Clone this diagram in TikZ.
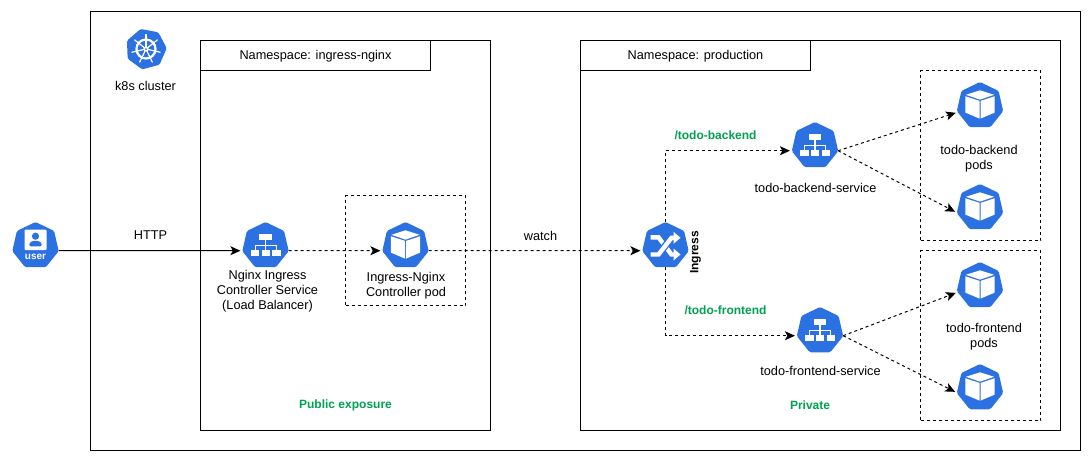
\documentclass[tikz,border=0pt]{standalone}
\usepackage{fontspec}
\setmainfont{Liberation Sans}
\usetikzlibrary{shapes.geometric,arrows.meta}
\definecolor{kblue}{HTML}{2C71E2}
\definecolor{lblgreen}{HTML}{00A152}
\def\px{0.75pt}
\tikzset{
  x=0.75pt,y=-0.75pt,
  boxed/.style={draw=black,line width=1*\px,anchor=north west,inner sep=0pt,outer sep=0pt,fill=none},
  dashbox/.style={boxed,dash pattern=on 3*\px off 3*\px},
  hept/.style={regular polygon,regular polygon sides=7,fill=kblue,draw=none,inner sep=0pt,outer sep=0pt,
     minimum size=47.6*\px,rounded corners=1.5*\px},
  hdr/.style={align=center,inner sep=0pt,font=\fontsize{9.55}{11.25}\selectfont,text=black},
  lbl/.style={hdr,yshift=-1*\px},
  blbl/.style={hdr,font=\fontsize{9}{11.25}\selectfont\bfseries},
  glbl/.style={lbl,font=\fontsize{9}{11.25}\selectfont\bfseries,text=lblgreen},
  conn/.style={line width=1*\px,-{Stealth[length=10*\px,width=9*\px,inset=2.5*\px]}},
  dconn/.style={conn,dash pattern=on 3*\px off 3*\px,shorten >=2*\px},
  svcicon/.pic={
    \fill[white] (-6.3,-11.7) rectangle (6.3,-6.3);
    \fill[white] (-.6,-6.3) rectangle (.6,-1);
    \fill[white] (-11,-1) rectangle (11.3,0);
    \fill[white] (-11,-1) rectangle (-10,4.3);
    \fill[white] (-.6,-1) rectangle (.6,4.3);
    \fill[white] (10.3,-1) rectangle (11.3,4.3);
    \fill[white] (-14.7,4.3) rectangle (-6.3,9.7);
    \fill[white] (-4,4.3) rectangle (4.3,9.7);
    \fill[white] (6.7,4.3) rectangle (15,9.7);
  },
  podicon/.pic={
    \fill[white] (0,-15.5) -- (14.2,-11) -- (0,-6.2) -- (-14.2,-11) -- cycle;
    \fill[white] (-14.7,-9.6) -- (-.5,-4.9) -- (-.5,12.8) -- (-14.7,6.8) -- cycle;
    \fill[white] (14.7,-9.6) -- (.5,-4.9) -- (.5,12.8) -- (14.7,6.8) -- cycle;
  },
  ingicon/.pic={
    \draw[white,line width=4.4*\px] (-15,-8.5) -- (-7,-8.5) -- (6,8.7) -- (9.5,8.7);
    \fill[white] (8,2.7) -- (15,8.7) -- (8,14.7) -- cycle;
    \draw[kblue,line width=7*\px] (-4.5,5.5) -- (3.5,-5);
    \draw[white,line width=4.4*\px] (-15,8.7) -- (-7,8.7) -- (6,-8) -- (9.5,-8);
    \fill[white] (8,-14) -- (15,-8) -- (8,-2) -- cycle;
  },
  usericon/.pic={
    \fill[white,rounded corners=1*\px] (-11,-16.3) rectangle (11,4.4);
    \fill[kblue] (0,-9.6) circle[radius=3.6];
    \fill[kblue,rounded corners=1.5*\px] (-6.3,0.5) -- (-6.3,-2.5) -- (-3,-5) -- (3,-5) -- (6.3,-2.5) -- (6.3,0.5) -- cycle;
    \node[font=\fontsize{7.5}{8}\selectfont\bfseries,text=white,inner sep=0pt] (usertext) at (0,11) {user};
  },
  wheelicon/.pic={
    \draw[white,line width=2.2*\px] (0,0) circle[radius=9.5];
    \fill[white] (0,0) circle[radius=2.6];
    \foreach \a in {-90,-38.6,12.9,64.3,115.7,167.1,218.6}{
      \draw[white,line width=1.2*\px,line cap=round] (\a:2) -- (\a:14.5);
    }
    \fill[kblue] (0,0) circle[radius=1];
  },
}
\begin{document}
\begin{tikzpicture}
\useasboundingbox (0,0) rectangle (1091,461);
\fill[white] (0,0) rectangle (1091,461);
% containers
\node[boxed,minimum width=990*\px,minimum height=439*\px] (cluster) at (90.5,11.5) {};
\node[boxed,minimum width=290*\px,minimum height=390*\px] (nsA) at (200.5,40.5) {};
\node[boxed,hdr,minimum width=230*\px,minimum height=30*\px] (nsAh) at (200.5,40.5) {\raisebox{0pt}[7.9pt][1.6pt]{Namespace: ingress-nginx}};
\node[boxed,minimum width=480*\px,minimum height=390*\px] (nsB) at (580.5,40.5) {};
\node[boxed,hdr,minimum width=230*\px,minimum height=30*\px] (nsBh) at (580.5,40.5) {\raisebox{0pt}[7.9pt][1.6pt]{Namespace: production}};
\node[dashbox,minimum width=120*\px,minimum height=110*\px] (podbox) at (345.5,195.5) {};
\node[dashbox,minimum width=120*\px,minimum height=170*\px] (bebox) at (920.5,70.5) {};
\node[dashbox,minimum width=120*\px,minimum height=170*\px] (febox) at (920.5,250.5) {};
% icons
\node[hept,minimum size=41.5*\px,shape border rotate=15] (k8s) at (146,49) {};
\pic at (k8s.center) {wheelicon};
\node[hept] (user) at (35.5,245.8) {};
\pic at (user.center) {usericon};
\node[hept] (lbsvc) at (265.5,245.8) {};
\pic at (lbsvc.center) {svcicon};
\node[hept] (ctrl) at (405.5,245.8) {};
\pic at (ctrl.center) {podicon};
\node[hept] (ing) at (665.5,245.8) {};
\pic at (ing.center) {ingicon};
\node[hept] (besvc) at (815,145.8) {};
\pic at (besvc.center) {svcicon};
\node[hept] (fesvc) at (820,330.8) {};
\pic at (fesvc.center) {svcicon};
\node[hept] (bepodA) at (980,105.8) {};
\pic at (bepodA.center) {podicon};
\node[hept] (bepodB) at (980,207.8) {};
\pic at (bepodB.center) {podicon};
\node[hept] (fepodA) at (980,285.8) {};
\pic at (fepodA.center) {podicon};
\node[hept] (fepodB) at (980,387.8) {};
\pic at (fepodB.center) {podicon};
% connectors
\draw[conn,shorten >=2*\px] (user.-12.7) -- (lbsvc.192.7);
\draw[dconn] (lbsvc.-12.7) -- (ctrl.192.7);
\draw[dconn] (ctrl.-12.7) -- (ing.192.7);
\draw[dconn] (ing.north) |- (besvc.192.7);
\draw[dconn] (ing.south) |- (fesvc.192.7);
\draw[dconn] (besvc.-12.7) -- (bepodA.196);
\draw[dconn] (besvc.-12.7) -- (bepodB.192);
\draw[dconn] (fesvc.-12.7) -- (fepodA.196);
\draw[dconn] (fesvc.-12.7) -- (fepodB.192);
% labels
\node[lbl] (tk8s) at (145.5,85) {k8s cluster};
\node[lbl] (thttp) at (150.5,234) {HTTP};
\node[lbl] (tlb) at (267.5,290.5) {Nginx Ingress\\Controller Service\\(Load Balancer)};
\node[lbl] (tctrl) at (406,284.5) {Ingress-Nginx\\Controller pod};
\node[lbl] (twatch) at (540.5,235) {watch};
\node[blbl,rotate=90] (ting) at (695.5,252.5) {Ingress};
\node[glbl] (tbe) at (715.5,134.5) {/todo-backend};
\node[glbl] (tfe) at (725.5,309) {/todo-frontend};
\node[lbl] (tbes) at (815.5,187) {todo-backend-service};
\node[lbl] (tfes) at (820.5,370) {todo-frontend-service};
\node[lbl] (tbep) at (979,157.5) {todo-backend\\pods};
\node[lbl] (tfep) at (984,335.5) {todo-frontend\\pods};
\node[glbl] (tpub) at (345.5,404.5) {Public exposure};
\node[glbl] (tpriv) at (810,404.5) {Private};
\end{tikzpicture}
\end{document}
